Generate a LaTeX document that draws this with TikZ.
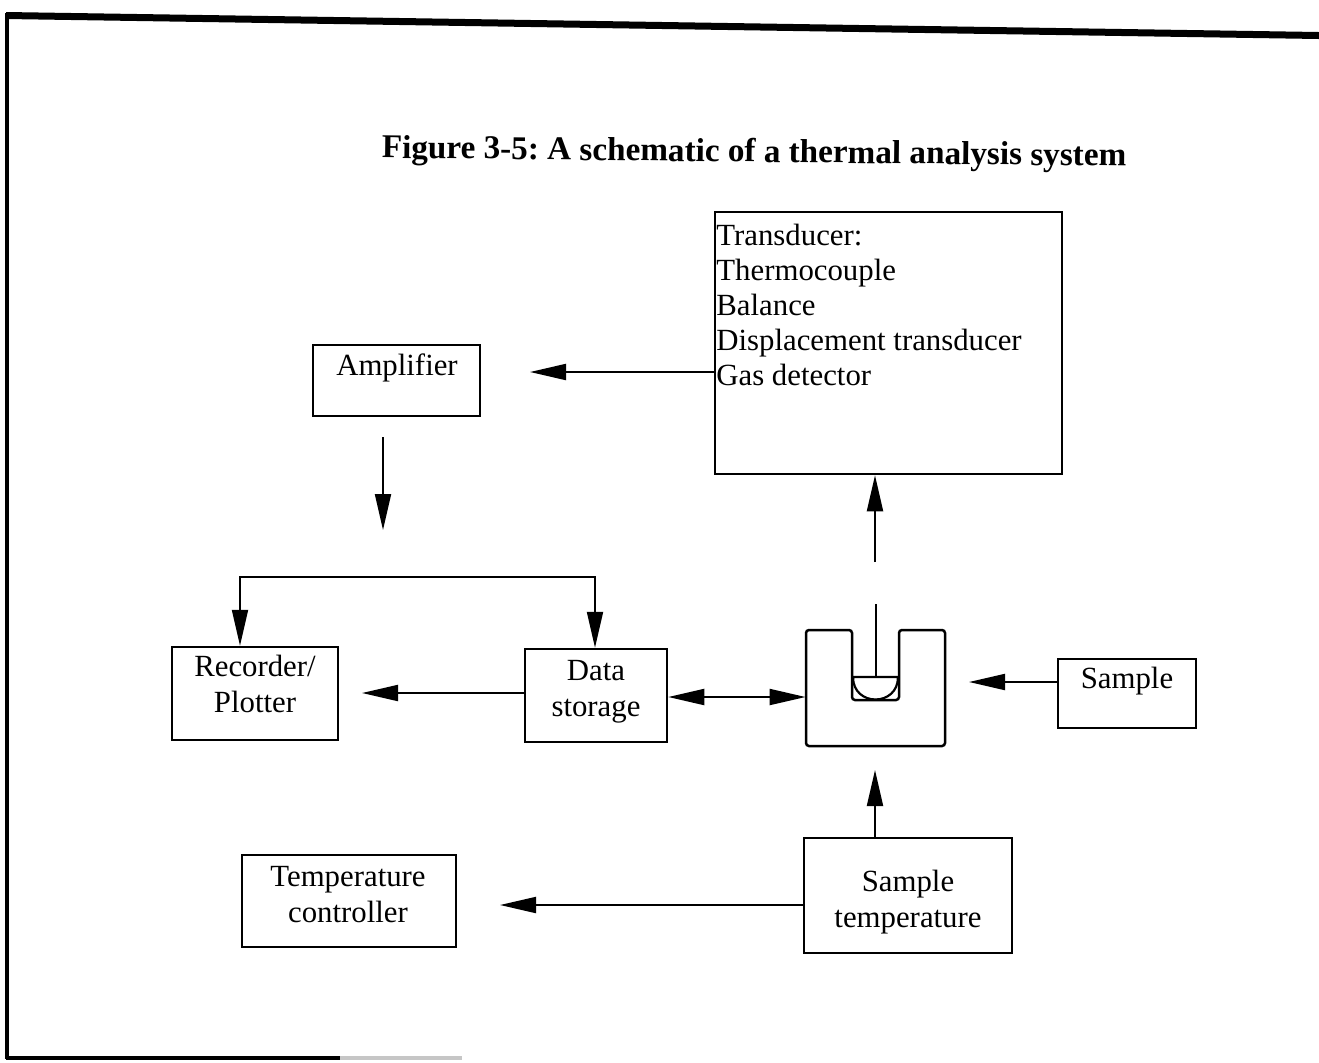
\documentclass[tikz,border=0pt]{standalone}
\usepackage{fontspec}
\setmainfont{Liberation Serif}
\usetikzlibrary{arrows.meta,fit}
\frenchspacing
\begin{document}
\begin{tikzpicture}[x=0.5pt,y=-0.5pt,
  box/.style={draw, line width=1.25pt, inner sep=0pt},
  lbl/.style={inner sep=0pt, font=\fontsize{15.4pt}{18pt}\selectfont, align=center},
  arr/.style={line width=1pt, -{Triangle[length=18pt,width=8pt]}},
  arrboth/.style={line width=1pt, {Triangle[length=18pt,width=8pt]}-{Triangle[length=18pt,width=8pt]}},
  frame/.style={line cap=butt},
]
\useasboundingbox (0,0) rectangle (1319,1062);

% page frame
\draw[frame, line width=3.5pt] (6,15.5) -- (1319,35.5);
\draw[frame, line width=2pt] (7,13) -- (7,1059);
\draw[frame, line width=1.75pt] (6,1058) -- (340,1058);
\draw[frame, line width=1.75pt, gray!45] (340,1058) -- (462,1058);

% title
\node[inner sep=0pt, anchor=base, rotate=-0.65,
      font=\bfseries\fontsize{16.6pt}{19pt}\selectfont] (title) at (754,162)
      {Figure 3-5: A schematic of a thermal analysis system};

% boxes
\node[box, fit={(715,212) (1062,474)}] (trans) {};
\node[box, fit={(313,345) (480,416)}] (amp) {};
\node[box, fit={(172,647) (338,740)}] (rec) {};
\node[box, fit={(525,649) (667,742)}] (data) {};
\node[box, fit={(1058,659) (1196,728)}] (samp) {};
\node[box, fit={(804,838) (1012,953)}] (stemp) {};
\node[box, fit={(242,855) (456,947)}] (tctrl) {};

% box texts (anchored at the baseline of the last line)
\node[lbl, align=left, anchor=base west, font=\fontsize{15.4pt}{17.5pt}\selectfont]
  (transtxt) at (716,385) {Transducer:\\Thermocouple\\Balance\\Displacement transducer\\Gas detector};
\node[lbl, anchor=base] (amptxt) at (397,375) {Amplifier};
\node[lbl, anchor=base] (rectxt) at (255,712) {Recorder/\\Plotter};
\node[lbl, anchor=base] (datatxt) at (596,716) {Data\\storage};
\node[lbl, anchor=base] (samptxt) at (1127,688) {Sample};
\node[lbl, anchor=base] (stemptxt) at (908,927) {Sample\\temperature};
\node[lbl, anchor=base] (tctrltxt) at (348,922) {Temperature\\controller};

% crucible holder with sample pan and probe
\node[inner sep=0pt, fit={(806,630) (945,746)}] (cruc) {};
\draw[line width=1.25pt, rounded corners=1.5pt]
  (806,630) -- (852,630) -- (852,700) -- (899,700) -- (899,630)
  -- (945,630) -- (945,746) -- (806,746) -- cycle;
\draw[line width=1.1pt]
  (853,677) -- (898,677) .. controls (898,707) and (853,707) .. (853,677) -- cycle;
\coordinate (rodtop) at (876,604);
\coordinate (rodend) at (876,677);
\draw[line width=1pt] (rodtop) -- (rodend);

% free arrow ends
\coordinate (ampin) at (530,372);
\coordinate (ampdown1) at (383,437);
\coordinate (ampdown2) at (383,530);
\coordinate (brkL) at (240,577);
\coordinate (brkR) at (595,577);
\coordinate (recin) at (362,693);
\coordinate (crucin) at (969,682);
\coordinate (crucout) at (875,562);
\coordinate (crucbot) at (875,770);
\coordinate (tctrlin) at (500,905);

% connectors
\draw[arr] (trans.west |- ampin) -- (ampin);
\draw[arr] (ampdown1) -- (ampdown2);
\draw[arrboth] (rec.north -| brkL) -- (brkL) -- (brkR) -- (data.north -| brkR);
\draw[arr] (data.west |- recin) -- (recin);
\draw[arrboth] (data.east |- 0,697) -- (cruc.west |- 0,697);
\draw[arr] (samp.west |- crucin) -- (crucin);
\draw[arr] (crucout) -- (trans.south -| crucout);
\draw[arr] (stemp.north -| crucbot) -- (crucbot);
\draw[arr] (stemp.west |- tctrlin) -- (tctrlin);
\end{tikzpicture}
\end{document}
